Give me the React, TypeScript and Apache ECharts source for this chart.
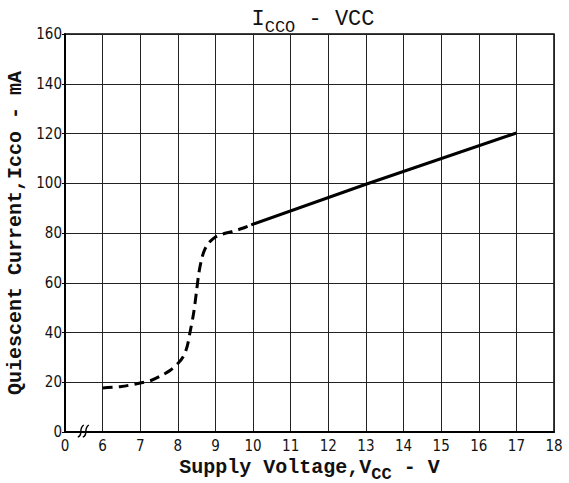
import React, { useEffect, useRef } from "react";
import * as echarts from "echarts";

const xTickValues = [5, 6, 7, 8, 9, 10, 11, 12, 13, 14, 15, 16, 17, 18];
const yTickValues = [0, 20, 40, 60, 80, 100, 120, 140, 160];
const dashedX = [6, 6.5, 7, 7.3, 7.6, 7.8, 8.0, 8.15, 8.25, 8.32, 8.42, 8.5, 8.56, 8.64, 8.72, 8.82, 9.0, 9.2, 9.45, 9.7, 9.95];
const dashedY = [17.7, 18.3, 19.7, 20.8, 23.0, 24.8, 27.5, 30.5, 34.5, 39.8, 47.8, 57, 64, 70, 73.5, 76, 78.4, 79.6, 80.6, 81.8, 83.3];
const solidX = [9.95, 13, 17];
const solidY = [83.3, 99.6, 120.2];
const breakAt = [5.42, 0];

const MONO = "'Liberation Mono', 'DejaVu Sans Mono', monospace";
const NARROW = "'Liberation Sans Narrow', 'DejaVu Sans Condensed', 'Liberation Sans', sans-serif";

export default function App() {
  const ref = useRef<HTMLDivElement>(null);
  useEffect(() => {
    if (!ref.current) return;
    const chart = echarts.init(ref.current, undefined, { renderer: "svg" });
    chart.setOption({
      animation: false,
      backgroundColor: "#fff",
      title: {
        text: "{a|I}{s|CCO}{a| - VCC}",
        left: 308,
        textAlign: "center",
        top: 1,
        textStyle: {
          fontWeight: "normal",
          rich: {
            a: { fontFamily: MONO, fontWeight: "normal", fontSize: 22, color: "#111", verticalAlign: "bottom", lineHeight: 24 },
            s: { fontFamily: MONO, fontWeight: "normal", fontSize: 17, color: "#111", verticalAlign: "bottom", lineHeight: 18, padding: [0, 0, -6, 0] },
          },
        },
      },
      grid: {
        left: 65, right: 15, top: 34, bottom: 51,
        outerBoundsMode: "none",
        containLabel: false,
        show: true, borderColor: "#000", borderWidth: 1.5,
      },
      xAxis: {
        type: "value",
        min: xTickValues[0],
        max: xTickValues[xTickValues.length - 1],
        interval: 1,
        name: "{a|Supply Voltage,V}{s|CC}{a| - V}",
        nameLocation: "middle",
        nameGap: 22,
        nameTextStyle: {
          rich: {
            a: { fontFamily: MONO, fontWeight: "bold", fontSize: 20, color: "#111", verticalAlign: "bottom", lineHeight: 22 },
            s: { fontFamily: MONO, fontWeight: "bold", fontSize: 17, color: "#111", verticalAlign: "bottom", lineHeight: 18, padding: [0, 0, -5, 0] },
          },
        },
        axisLine: { lineStyle: { color: "#000", width: 2 } },
        axisTick: { show: false },
        axisLabel: {
          margin: 6,
          fontFamily: NARROW,
          fontSize: 15,
          color: "#111",
          formatter: (v: number) => (v === xTickValues[0] ? "0" : String(v)),
        },
        splitLine: { show: true, lineStyle: { color: "#222", width: 1 } },
      },
      yAxis: {
        type: "value",
        min: yTickValues[0],
        max: yTickValues[yTickValues.length - 1],
        interval: 20,
        name: "Quiescent Current,Icco - mA",
        nameLocation: "middle",
        nameGap: 31,
        nameTextStyle: { fontFamily: MONO, fontWeight: "bold", fontSize: 20, color: "#111" },
        axisLine: { lineStyle: { color: "#000", width: 2 } },
        axisTick: { show: true, length: 3, lineStyle: { color: "#000" } },
        axisLabel: { margin: 3, fontFamily: NARROW, fontSize: 15, color: "#111" },
        splitLine: { show: true, lineStyle: { color: "#222", width: 1 } },
      },
      series: [
        {
          type: "line",
          data: dashedX.map((x, i) => [x, dashedY[i]]),
          smooth: 0.3,
          showSymbol: false,
          lineStyle: { color: "#000", width: 3, type: [10, 6] },
        },
        {
          type: "line",
          data: solidX.map((x, i) => [x, solidY[i]]),
          showSymbol: false,
          lineStyle: { color: "#000", width: 3 },
        },
        {
          type: "custom",
          clip: false,
          data: [breakAt],
          renderItem: (params: any, api: any) => {
            const p = api.coord([api.value(0), api.value(1)]);
            const mk = (dx: number) => ({
              type: "bezierCurve",
              shape: {
                x1: p[0] + dx - 3, y1: p[1] + 5,
                cpx1: p[0] + dx + 3, cpy1: p[1] + 3,
                cpx2: p[0] + dx - 3, cpy2: p[1] - 3,
                x2: p[0] + dx + 3, y2: p[1] - 7,
              },
              style: { stroke: "#000", lineWidth: 1.5, fill: null },
            });
            return { type: "group", children: [mk(0), mk(5)] };
          },
        },
      ],
    });
    return () => chart.dispose();
  }, []);
  return (
    <div
      ref={ref}
      style={{ position: "absolute", left: 0, top: 0, width: 569, height: 483 }}
    />
  );
}
